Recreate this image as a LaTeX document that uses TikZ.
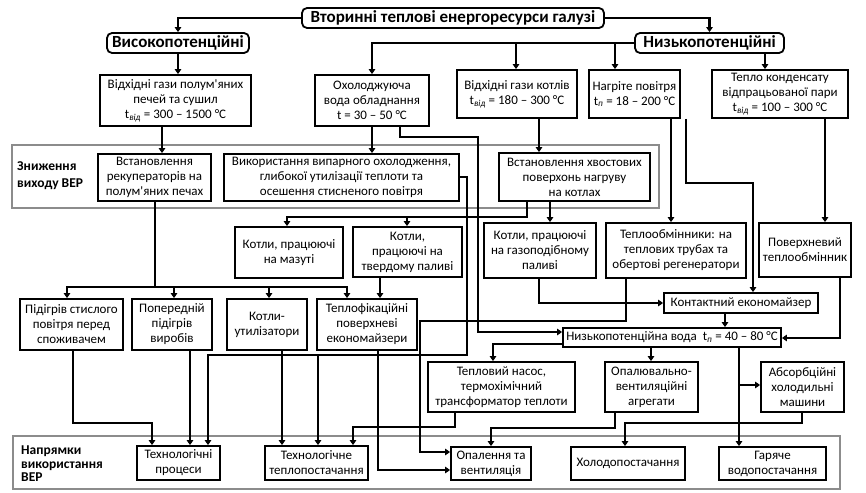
\documentclass[tikz,border=0pt]{standalone}
\usepackage{fontspec}
\setmainfont{Carlito}[Ligatures=TeXOff]
\usetikzlibrary{arrows.meta}
\definecolor{bandgray}{RGB}{140,140,140}
\newcommand{\tsub}[1]{\textsubscript{\textit{#1}}}
\tikzset{
  box/.style={draw, line width=1.8pt, fill=white, align=center, inner sep=1pt,
    font=\fontsize{13}{15}\selectfont},
  rbox/.style={box, rounded corners=5pt, font=\bfseries\fontsize{17}{19}\selectfont},
  conn/.style={line width=2.5pt, -{Triangle[length=5pt,width=6.5pt]}},
  plain/.style={line width=2.5pt},
  band/.style={draw=bandgray, line width=1.6pt},
  bandlbl/.style={font=\bfseries\fontsize{13.5}{17}\selectfont, align=left, anchor=west, inner sep=0pt}
}
\begin{document}
\begin{tikzpicture}[x=1pt,y=-1pt]
\useasboundingbox (0,0) rectangle (866,492);
% bands
\draw[band] (12,145) rectangle (659,208);
\draw[band] (13,436) rectangle (840,489);
\node[bandlbl] (bl1) at (17,176) {Зниження\\виходу ВЕР};
\node[bandlbl, font=\bfseries\fontsize{13.5}{13.5}\selectfont] (bl2) at (21,464) {Напрямки\\використання\\ВЕР};
% top
\node[rbox, minimum width=302pt, minimum height=20pt] (title) at (453,18) {Вторинні теплові енергоресурси галузі};
\node[rbox, minimum width=142pt, minimum height=20pt] (hi) at (178,43) {Високопотенційні};
\node[rbox, minimum width=149pt, minimum height=20pt] (lo) at (709.5,43) {Низькопотенційні};
% sources
\node[box, minimum width=151pt, minimum height=51pt] (v1) at (175.5,100.5) {Відхідні гази полум'яних\\печей та сушил\\t\tsub{від} = 300 – 1500 °C};
\node[box, minimum width=114pt, minimum height=51pt] (cool) at (372,100.5) {Охолоджуюча\\вода обладнання\\t = 30 – 50 °C};
\node[box, minimum width=120pt, minimum height=48pt] (gk) at (517,94) {Відхідні гази котлів\\t\tsub{від} = 180 – 300 °C};
\node[box, minimum width=91pt, minimum height=48pt] (air) at (634.5,94) {Нагріте повітря\\t\tsub{п} = 18 – 200 °C};
\node[box, minimum width=136pt, minimum height=48pt] (cond) at (780,94) {Тепло конденсату\\відпрацьованої пари\\t\tsub{від} = 100 – 300 °C};
% reduction band
\node[box, minimum width=113pt, minimum height=47pt] (rek) at (154.5,177.5) {Встановлення\\рекуператорів на\\полум'яних печах};
\node[box, minimum width=235pt, minimum height=47pt] (vyk) at (341.5,177.5) {Використання випарного охолодження,\\глибокої утилізації теплоти та\\осешення стисненого повітря};
\node[box, minimum width=151pt, minimum height=48pt] (hv) at (574.5,177) {Встановлення хвостових\\поверхонь нагруву\\на котлах};
% boilers row
\node[box, minimum width=108pt, minimum height=51pt] (maz) at (289,252.5) {Котли, працюючі\\на мазуті};
\node[box, minimum width=109pt, minimum height=50pt] (tverd) at (407.5,252) {Котли,\\працюючі на\\твердому паливі};
\node[box, minimum width=112pt, minimum height=55pt] (gaz) at (540,250.5) {Котли, працюючі\\на газоподібному\\паливі};
\node[box, minimum width=140pt, minimum height=55pt] (hx) at (676,250.5) {Теплообмінники: на\\теплових трубах та\\обертові регенератори};
\node[box, minimum width=92pt, minimum height=54pt] (pov) at (805,250) {Поверхневий\\теплообмінник};
\node[box, minimum width=154pt, minimum height=20pt] (kont) at (741,303) {Контактний економайзер};
\node[box, minimum width=218pt, minimum height=19pt] (water) at (672,337.5) {Низькопотенційна вода\ \ t\tsub{п} = 40 – 80 °C};
% use row
\node[box, minimum width=103pt, minimum height=51pt] (pid) at (71.5,324.5) {Підігрів стислого\\повітря перед\\споживачем};
\node[box, minimum width=80pt, minimum height=51pt] (pop) at (172,324.5) {Попередній\\підігрів\\виробів};
\node[box, minimum width=80pt, minimum height=51pt] (ku) at (267,324.5) {Котли-\\утилізатори};
\node[box, minimum width=100pt, minimum height=51pt] (tf) at (367,324.5) {Теплофікаційні\\поверхневі\\економайзери};
\node[box, minimum width=147pt, minimum height=50pt] (tn) at (501.5,387) {Тепловий насос,\\термохімічний\\трансформатор теплоти};
\node[box, minimum width=93pt, minimum height=50pt] (ov) at (651.5,387) {Опалювально-\\вентиляційні\\агрегати};
\node[box, minimum width=83pt, minimum height=50pt] (abs) at (802.5,387) {Абсорбційні\\холодильні\\машини};
% directions band
\node[box, minimum width=83pt, minimum height=34pt] (tp) at (178.5,463) {Технологічні\\процеси};
\node[box, minimum width=103pt, minimum height=34pt] (tts) at (316.5,463) {Технологічне\\теплопостачання};
\node[box, minimum width=80pt, minimum height=33pt] (opal) at (491,463.5) {Опалення та\\вентиляція};
\node[box, minimum width=114pt, minimum height=33pt] (holod) at (628,463.5) {Холодопостачання};
\node[box, minimum width=107pt, minimum height=33pt] (gar) at (772.5,463.5) {Гаряче\\водопостачання};
% connectors
\draw[conn] (title.west) -| (hi.north);
\draw[conn] (title.east) -| (lo.north);
\draw[conn] (hi.south) -- (v1.north -| hi.south);
\draw[conn] (lo.west) -| (cool.north);
\draw[conn] (lo.west -| 516,0) -- (gk.north -| 516,0);
\draw[conn] (lo.west -| 615,0) -- (air.north -| 615,0);
\draw[conn] (lo.south -| 765,0) -- (cond.north -| 765,0);
\draw[conn] (v1.south -| 162,0) -- (rek.north -| 162,0);
\draw[conn] (cool.south) -- (vyk.north -| cool.south);
\draw[conn] (gk.south -| 539,0) -- (hv.north -| 539,0);
\draw[conn] (cool.south -| 400,0) |- (478,137) |- (water.west |- 0,332);
\draw[conn] (vyk.east |- 0,177) -- (467,177) -- (467,355) -| (tp.north -| 208,0);
\draw[conn] (318,355) -- (tts.north -| 318,0);
\draw[conn] (hv.south -| 527,0) -- (527,217) -| (maz.north -| 287,0);
\draw[conn] (407,217) -- (tverd.north -| 407,0);
\draw[conn] (hv.south -| 550,0) -- (gaz.north -| 550,0);
\draw[conn] (air.south -| 671,0) -- (hx.north -| 671,0);
\draw[conn] (air.south -| 686,0) |- (753,183) -- (kont.north -| 753,0);
\draw[conn] (cond.south -| 825,0) -- (pov.north -| 825,0);
\draw[conn] (gaz.south -| 539,0) |- (kont.west);
\draw[conn] (hx.south -| 626,0) |- (420,321) |- (opal.west |- 0,452);
\draw[conn] (kont.south -| 725,0) -- (water.north -| 725,0);
\draw[conn] (pov.south -| 840,0) |- (water.east |- 0,338);
\draw[conn] (rek.south -| 155,0) -- (155,287) -| (pid.north -| 67,0);
\draw[conn] (155,287) -| (tf.north -| 347,0);
\draw[conn] (174,287) -- (pop.north -| 174,0);
\draw[conn] (269,287) -- (ku.north -| 269,0);
\draw[conn] (tverd.south -| 380,0) -- (tf.north -| 380,0);
\draw[conn] (pid.south -| 73,0) |- (152,423) -- (tp.north -| 152,0);
\draw[conn] (pop.south -| 190,0) -- (tp.north -| 190,0);
\draw[conn] (ku.south -| 282,0) -- (tts.north -| 282,0);
\draw[conn] (tf.south -| 378,0) |- (opal.west |- 0,470);
\draw[conn] (water.west |- 0,344) -| (tn.north -| 493,0);
\draw[conn] (water.south -| 651,0) -- (ov.north -| 651,0);
\draw[conn] (water.south -| 739,0) -- (gar.north -| 739,0);
\draw[conn] (739,385) -- (abs.west |- 0,385);
\draw[conn] (tn.south -| 455,0) |- (353,427) -- (tts.north -| 353,0);
\draw[conn] (ov.south -| 615,0) |- (491,428) -- (opal.north -| 491,0);
\draw[conn] (abs.south -| 802,0) |- (625,423) -- (holod.north -| 625,0);
\end{tikzpicture}
\end{document}
